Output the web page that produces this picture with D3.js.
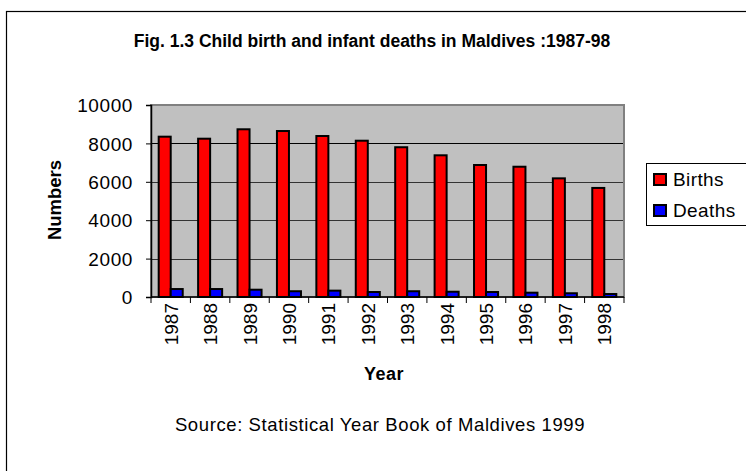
<!DOCTYPE html>
<html>
<head>
<meta charset="utf-8">
<script src="https://cdn.jsdelivr.net/npm/d3@7"></script>
<style>
  body { margin: 0; background: #fff; }
  svg text { font-family: "Liberation Sans", Arial, sans-serif; fill: #000; }
</style>
</head>
<body>
<svg width="746" height="471"></svg>
<script>
// data
var years = ["1987", "1988", "1989", "1990", "1991", "1992", "1993", "1994", "1995", "1996", "1997", "1998"];
var births = [8350, 8245, 8735, 8645, 8385, 8140, 7800, 7380, 6875, 6785, 6180, 5680];
var deaths = [415, 415, 380, 300, 330, 260, 300, 275, 260, 225, 195, 155];
var seriesNames = ["Births", "Deaths"];
var seriesColors = ["#ff0000", "#0000ff"];
var yTicks = [0, 2000, 4000, 6000, 8000, 10000];

var svg = d3.select("svg"),
    width = +svg.attr("width"),
    height = +svg.attr("height");

var plot = {left: 151, top: 105, right: 624, bottom: 297};

// outer chart frame (runs off the right edge like the original)
svg.append("rect")
    .attr("x", 6.5).attr("y", 11.5)
    .attr("width", 900).attr("height", 600)
    .attr("fill", "none").attr("stroke", "#000").attr("stroke-width", 1.2);

svg.append("text")
    .attr("x", 372).attr("y", 47)
    .attr("text-anchor", "middle")
    .style("font-size", "17.5px").style("font-weight", "bold")
    .text("Fig. 1.3 Child birth and infant deaths in Maldives :1987-98");

var x = d3.scaleBand().domain(years).range([plot.left, plot.right]);
var xs = d3.scaleBand().domain(seriesNames).range([0, x.bandwidth()]).paddingOuter(0.64);
var y = d3.scaleLinear().domain([0, 10000]).range([plot.bottom, plot.top]);

// plot area
svg.append("rect")
    .attr("x", plot.left).attr("y", plot.top)
    .attr("width", plot.right - plot.left).attr("height", plot.bottom - plot.top)
    .attr("fill", "#c0c0c0").attr("stroke", "#808080").attr("stroke-width", 2);

svg.append("g")
    .selectAll("line")
    .data(yTicks.filter(function(d) { return d > 0 && d < 10000; }))
    .enter().append("line")
    .attr("x1", plot.left).attr("x2", plot.right - 1)
    .attr("y1", function(d) { return Math.round(y(d)) + 0.5; })
    .attr("y2", function(d) { return Math.round(y(d)) + 0.5; })
    .attr("stroke", function(d) { return d === 8000 ? "#000" : "#333"; })
    .attr("stroke-width", 1);

var rows = years.map(function(yr, i) { return {year: yr, values: [births[i], deaths[i]]}; });

svg.append("g")
    .selectAll("g")
    .data(rows)
    .enter().append("g")
    .attr("transform", function(d) { return "translate(" + x(d.year) + ",0)"; })
    .selectAll("rect")
    .data(function(d) { return d.values.map(function(v, j) { return {name: seriesNames[j], value: v, color: seriesColors[j]}; }); })
    .enter().append("rect")
    .attr("x", function(d) { return xs(d.name); })
    .attr("y", function(d) { return y(d.value); })
    .attr("width", xs.bandwidth())
    .attr("height", function(d) { return y(0) - y(d.value); })
    .attr("fill", function(d) { return d.color; })
    .attr("stroke", "#000").attr("stroke-width", 2);

// y axis
var yAxis = svg.append("g")
    .attr("transform", "translate(" + plot.left + ",0)")
    .call(d3.axisLeft(y).tickValues(yTicks).tickSize(5).tickPadding(13).tickFormat(d3.format("d")));
yAxis.select(".domain").attr("stroke", "#000").attr("stroke-width", 1.5);
yAxis.selectAll("line").attr("stroke", "#000");
yAxis.selectAll("text")
    .style("font-size", "19px").style("letter-spacing", "0.6px")
    .attr("font-family", null).attr("dy", "0.35em");

// x axis, ticks at category boundaries
var xAxisG = svg.append("g")
    .attr("transform", "translate(0," + plot.bottom + ")");
xAxisG.append("line")
    .attr("x1", plot.left).attr("x2", plot.right)
    .attr("stroke", "#000").attr("stroke-width", 1.5);
xAxisG.selectAll(".tick")
    .data(years.concat(["end"]))
    .enter().append("line")
    .attr("x1", function(d, i) { return i < years.length ? x(d) : plot.right; })
    .attr("x2", function(d, i) { return i < years.length ? x(d) : plot.right; })
    .attr("y1", 0).attr("y2", 6)
    .attr("stroke", "#000");
xAxisG.selectAll("text")
    .data(years)
    .enter().append("text")
    .attr("transform", function(d) { return "translate(" + (x(d) + x.bandwidth() / 2 + 7) + ",6) rotate(-90)"; })
    .attr("text-anchor", "end")
    .style("font-size", "19px")
    .text(function(d) { return d; });

// axis titles
svg.append("text")
    .attr("transform", "translate(61,200) rotate(-90)")
    .attr("text-anchor", "middle")
    .style("font-size", "18.5px").style("font-weight", "bold")
    .text("Numbers");

svg.append("text")
    .attr("x", 384).attr("y", 380)
    .attr("text-anchor", "middle")
    .style("font-size", "18px").style("font-weight", "bold").style("letter-spacing", "0.5px")
    .text("Year");

svg.append("text")
    .attr("x", 380).attr("y", 431)
    .attr("text-anchor", "middle")
    .style("font-size", "18.5px").style("letter-spacing", "0.6px")
    .text("Source: Statistical Year Book of Maldives 1999");

// legend
var legend = svg.append("g");
legend.append("rect")
    .attr("x", 646.5).attr("y", 163.5)
    .attr("width", 150).attr("height", 62)
    .attr("fill", "#fff").attr("stroke", "#000").attr("stroke-width", 1);
var items = legend.selectAll("g.item")
    .data(seriesNames)
    .enter().append("g")
    .attr("transform", function(d, i) { return "translate(0," + (i * 31) + ")"; });
items.append("rect")
    .attr("x", 654).attr("y", 174)
    .attr("width", 12).attr("height", 11)
    .attr("fill", function(d, i) { return seriesColors[i]; })
    .attr("stroke", "#000").attr("stroke-width", 2);
items.append("text")
    .attr("x", 673).attr("y", 185.5)
    .style("font-size", "19px").style("letter-spacing", "0.4px")
    .text(function(d) { return d; });
</script>
</body>
</html>
